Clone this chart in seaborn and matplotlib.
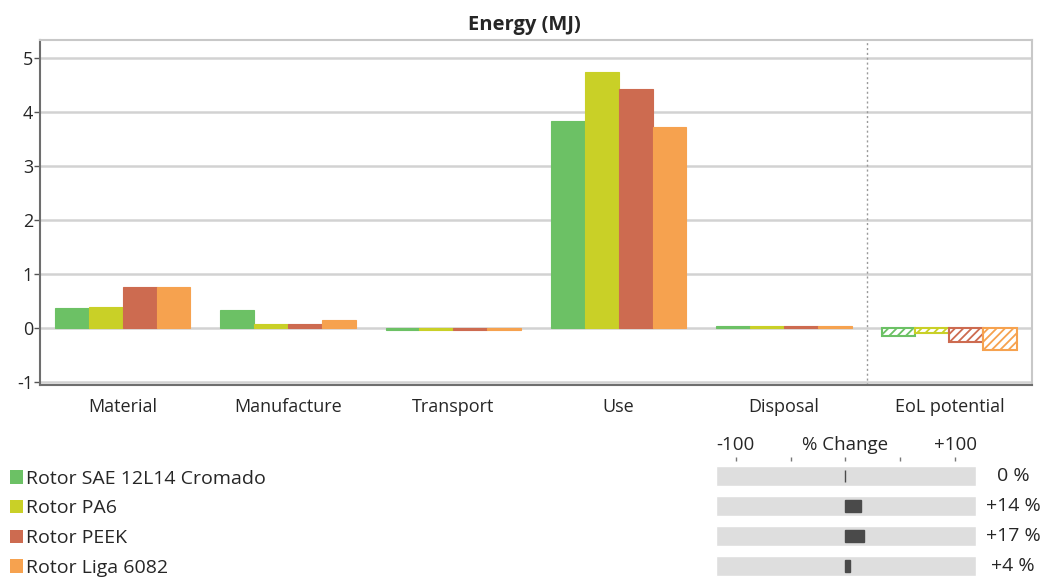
import numpy as np
import pandas as pd
import seaborn as sns
import matplotlib.pyplot as plt
from matplotlib.patches import Patch

# data
stages = ["Material", "Manufacture", "Transport", "Use", "Disposal", "EoL potential"]
products = ["Rotor SAE 12L14 Cromado", "Rotor PA6", "Rotor PEEK", "Rotor Liga 6082"]
sae = [0.37, 0.33, -0.03, 3.83, 0.04, -0.14]
pa6 = [0.39, 0.07, -0.03, 4.73, 0.04, -0.09]
peek = [0.76, 0.07, -0.03, 4.43, 0.04, -0.25]
liga = [0.76, 0.16, -0.03, 3.73, 0.04, -0.41]
pct_change = [0, 14, 17, 4]
pct_labels = ["0 %", "+14 %", "+17 %", "+4 %"]
colors = ["#6cc165", "#c9d027", "#cd6b50", "#f6a24f"]

df = pd.DataFrame({
    "stage": stages * 4,
    "product": np.repeat(products, len(stages)),
    "energy": sae + pa6 + peek + liga,
})

sns.set_theme(style="white")
plt.rcParams["font.family"] = ["Open Sans", "DejaVu Sans"]
plt.rcParams["axes.unicode_minus"] = False
plt.rcParams["hatch.linewidth"] = 1.3

W, H = 1048, 578
fig = plt.figure(figsize=(W / 100, H / 100), dpi=100)

# main bar chart
ax = fig.add_axes([40 / W, 1 - 385 / H, 992 / W, 345 / H])
sns.barplot(data=df, x="stage", y="energy", hue="product", order=stages,
            hue_order=products, palette=colors, width=0.82, saturation=1,
            linewidth=0, ax=ax, legend=False)
for cont, c in zip(ax.containers, colors):
    for p in cont.patches:
        p.set_edgecolor(c)
        p.set_linewidth(0.8)
    eol = cont.patches[-1]
    eol.set_facecolor("white")
    eol.set_hatch("////")
    eol.set_linewidth(1.5)

ax.set_xlim(-0.5, 5.5)
ax.set_ylim(-1.05, 5.33)
ax.set_yticks([-1, 0, 1, 2, 3, 4, 5])
ax.yaxis.grid(True, color="#d2d2d2", linewidth=1.8)
ax.set_axisbelow(True)
ax.axvline(4.5, color="#999999", linestyle=(0, (1.5, 2)), linewidth=1)
ax.set_xlabel("")
ax.set_ylabel("")
ax.set_title("Energy (MJ)", fontsize=14.5, fontweight="bold", pad=7, x=0.488)
for side in ["top", "right"]:
    ax.spines[side].set_color("#c8c8c8")
    ax.spines[side].set_linewidth(1.5)
for side in ["left", "bottom"]:
    ax.spines[side].set_color("#6e6e6e")
    ax.spines[side].set_linewidth(1.5)
ax.tick_params(axis="y", left=True, length=4, width=1, color="#555555",
               labelsize=13, pad=1)
ax.tick_params(axis="x", bottom=False, labelsize=13, pad=3)

# legend
handles = [Patch(facecolor=c, edgecolor="none") for c in colors]
fig.legend(handles, products, loc="upper left", bbox_to_anchor=(2 / W, 1 - 462 / H),
           frameon=False, fontsize=14, handlelength=0.68, handleheight=0.68,
           handletextpad=0.15, labelspacing=0.6, borderaxespad=0)

# % change panel
cx = fig.add_axes([716 / W, 1 - 578 / H, 260 / W, 117 / H])
rows = np.arange(len(products))
xmin, xmax = -118, 119
cx.barh(rows, xmax - xmin, left=xmin, height=0.67, color="#dedede")
cx.barh(rows, pct_change, left=0, height=0.4, color="#4a4a4a",
        edgecolor="#4a4a4a", linewidth=1)
cx.set_xlim(xmin, xmax)
cx.set_ylim(3.4, -0.5)
cx.set_yticks([])
cx.xaxis.tick_top()
cx.set_xticks([-100, -50, 0, 50, 100])
cx.set_xticklabels(["-100", "", "% Change", "", "+100"], fontsize=13.5)
cx.tick_params(axis="x", top=True, length=3, width=1, color="#777777", pad=2)
for s in cx.spines.values():
    s.set_visible(False)
for r, lab in zip(rows, pct_labels):
    cx.text(1.0 + 37 / 260, r, lab, transform=cx.get_yaxis_transform(),
            ha="center", va="center", fontsize=14)

fig.savefig("out.png", dpi=100)
